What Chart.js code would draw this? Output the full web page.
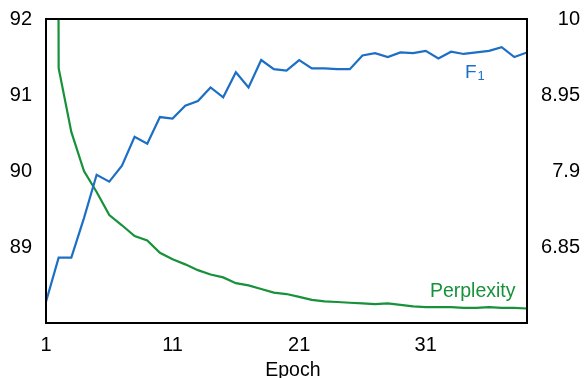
<!DOCTYPE html>
<html>
<head>
<meta charset="utf-8">
<script src="https://cdn.jsdelivr.net/npm/chart.js@4/dist/chart.umd.min.js"></script>
<style>
  html, body { margin: 0; padding: 0; background: #fff; }
  #wrap { width: 585px; height: 378px; position: relative; }
</style>
</head>
<body>
<div id="wrap"><canvas id="c"></canvas></div>
<script>
const epochs = [1,2,3,4,5,6,7,8,9,10,11,12,13,14,15,16,17,18,19,20,21,22,23,24,25,26,27,28,29,30,31,32,33,34,35,36,37,38,39];
const f1Values = [88.28, 88.86, 88.86, 89.38, 89.95, 89.86, 90.07, 90.45, 90.36, 90.71, 90.69, 90.86, 90.92, 91.10, 90.97, 91.30, 91.10, 91.46, 91.34, 91.32, 91.46, 91.35, 91.35, 91.34, 91.34, 91.52, 91.55, 91.50, 91.56, 91.55, 91.58, 91.48, 91.57, 91.54, 91.56, 91.58, 91.63, 91.50, 91.56];
const perplexityValues = [80, 9.32, 8.44, 7.90, 7.61, 7.29, 7.15, 7.00, 6.94, 6.77, 6.68, 6.61, 6.53, 6.47, 6.43, 6.35, 6.32, 6.27, 6.22, 6.20, 6.16, 6.12, 6.10, 6.09, 6.08, 6.07, 6.06, 6.07, 6.05, 6.03, 6.02, 6.02, 6.02, 6.01, 6.01, 6.02, 6.01, 6.01, 6.00];
const xTicks = [1, 11, 21, 31];
const leftTicks = [89, 90, 91, 92];
const rightTicks = [6.85, 7.9, 8.95, 10];
const xLabel = 'Epoch';
const f1Label = 'F';
const f1Sub = '1';
const pplLabel = 'Perplexity';

const BLUE = '#1c6fc4';
const GREEN = '#17913a';
const FONT = '"Liberation Sans", Arial, Helvetica, sans-serif';

const f1Data = epochs.map((e, i) => ({x: e, y: f1Values[i]}));
const pplData = epochs.map((e, i) => ({x: e, y: perplexityValues[i]}));

const framePlugin = {
  id: 'frame',
  afterDraw(chart) {
    const {ctx, chartArea: a, scales} = chart;
    ctx.save();
    ctx.strokeStyle = '#000';
    ctx.lineWidth = 2;
    ctx.strokeRect(a.left, a.top, a.right - a.left, a.bottom - a.top);
    ctx.textBaseline = 'alphabetic';
    // axis title
    ctx.fillStyle = '#000';
    ctx.textAlign = 'center';
    ctx.font = '19.5px ' + FONT;
    ctx.fillText(xLabel, scales.x.getPixelForValue(20.5), a.bottom + 53);
    // annotations placed in data coordinates
    ctx.textAlign = 'left';
    ctx.fillStyle = BLUE;
    ctx.font = '19px ' + FONT;
    const fx = scales.x.getPixelForValue(34.1);
    const fy = scales.y.getPixelForValue(91.22);
    ctx.fillText(f1Label, fx, fy);
    const fw = ctx.measureText(f1Label).width;
    ctx.font = '13px ' + FONT;
    ctx.fillText(f1Sub, fx + fw + 1, fy + 2);
    ctx.fillStyle = GREEN;
    ctx.font = '19.5px ' + FONT;
    ctx.fillText(pplLabel, scales.x.getPixelForValue(31.33), scales.y1.getPixelForValue(6.155));
    ctx.restore();
  }
};

const noPad = s => { s.paddingTop = 0; s.paddingBottom = 0; };

new Chart(document.getElementById('c'), {
  type: 'line',
  data: {
    datasets: [
      { label: 'F1', data: f1Data, yAxisID: 'y', borderColor: BLUE, borderWidth: 2.2, pointRadius: 0, tension: 0, fill: false },
      { label: 'Perplexity', data: pplData, yAxisID: 'y1', borderColor: GREEN, borderWidth: 2.2, pointRadius: 0, tension: 0, fill: false }
    ]
  },
  options: {
    responsive: true,
    maintainAspectRatio: false,
    animation: false,
    layout: { padding: { top: 19, right: 5, bottom: 0, left: 0 } },
    plugins: { legend: { display: false }, tooltip: { enabled: false } },
    scales: {
      x: {
        type: 'linear', min: 1, max: 39,
        grid: { display: false, drawTicks: false },
        border: { display: false },
        afterBuildTicks: s => { s.ticks = xTicks.map(v => ({value: v})); },
        afterFit: s => { s.height = 55; },
        ticks: { color: '#000', font: { family: FONT, size: 20 }, padding: 10.5, maxRotation: 0, autoSkip: false },
        title: { display: false }
      },
      y: {
        position: 'left', min: 88, max: 92,
        grid: { display: false, drawTicks: false },
        border: { display: false },
        afterBuildTicks: s => { s.ticks = leftTicks.map(v => ({value: v})); },
        afterFit: s => { s.width = 46; noPad(s); },
        ticks: { color: '#000', font: { family: FONT, size: 20 }, padding: 14 }
      },
      y1: {
        position: 'right', min: 5.8, max: 10,
        grid: { display: false, drawTicks: false },
        border: { display: false },
        afterBuildTicks: s => { s.ticks = rightTicks.map(v => ({value: v})); },
        afterFit: s => { s.width = 53; noPad(s); },
        ticks: { color: '#000', font: { family: FONT, size: 20 }, padding: 14.5, crossAlign: 'far', callback: v => String(v) }
      }
    }
  },
  plugins: [framePlugin]
});
</script>
</body>
</html>
